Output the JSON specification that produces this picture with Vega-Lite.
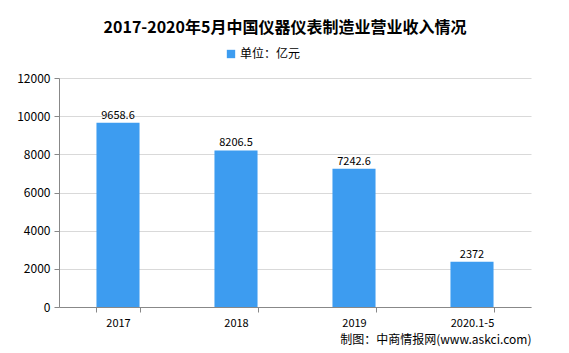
{
  "$schema": "https://vega.github.io/schema/vega-lite/v6.json",
  "width": 472,
  "height": 229,
  "autosize": {"type": "none"},
  "padding": {"left": 59, "top": 78, "right": 38, "bottom": 46},
  "background": "white",
  "config": {
    "font": "Noto Sans CJK SC",
    "view": {"stroke": null}
  },
  "title": {
    "text": "2017-2020年5月中国仪器仪表制造业营业收入情况",
    "fontSize": 16,
    "fontWeight": "bold",
    "color": "#000000",
    "anchor": "middle",
    "dx": -10,
    "offset": 12,
    "font": "Noto Sans CJK SC"
  },
  "data": {
    "values": [
      {"year": "2017", "value": 9658.6, "label": "9658.6", "series": "单位：亿元"},
      {"year": "2018", "value": 8206.5, "label": "8206.5", "series": "单位：亿元"},
      {"year": "2019", "value": 7242.6, "label": "7242.6", "series": "单位：亿元"},
      {"year": "2020.1-5", "value": 2372, "label": "2372", "series": "单位：亿元"}
    ]
  },
  "encoding": {
    "x": {
      "field": "year",
      "type": "nominal",
      "sort": null,
      "scale": {"paddingInner": 0.635, "paddingOuter": 0.3175},
      "axis": {
        "title": "制图：中商情报网(www.askci.com)",
        "titleAnchor": "end",
        "titleAlign": "right",
        "titleFontSize": 12,
        "titleFontWeight": "normal",
        "titleColor": "#000000",
        "titlePadding": 6,
        "labelAngle": 0,
        "labelFontSize": 11,
        "labelColor": "#000000",
        "labelPadding": 5,
        "tickBand": "extent",
        "tickSize": 5,
        "tickColor": "#888888",
        "domainColor": "#888888",
        "grid": false
      }
    },
    "y": {
      "field": "value",
      "type": "quantitative",
      "scale": {"domain": [0, 12000]},
      "axis": {
        "title": null,
        "values": [0, 2000, 4000, 6000, 8000, 10000, 12000],
        "format": "d",
        "labelFontSize": 12,
        "labelColor": "#000000",
        "labelPadding": 4,
        "tickSize": 5,
        "tickColor": "#888888",
        "domainColor": "#888888",
        "gridColor": "#d9d9d9"
      }
    }
  },
  "layer": [
    {
      "mark": {"type": "bar", "color": "#3d9cf0"},
      "encoding": {
        "color": {
          "field": "series",
          "type": "nominal",
          "scale": {"range": ["#3d9cf0"]},
          "legend": {
            "title": null,
            "orient": "none",
            "legendX": 166,
            "legendY": -30,
            "symbolType": "square",
            "symbolSize": 70,
            "symbolStrokeWidth": 0,
            "labelFontSize": 12,
            "labelColor": "#000000",
            "labelOffset": 3
          }
        }
      }
    },
    {
      "mark": {"type": "text", "baseline": "bottom", "dy": -2, "fontSize": 11, "color": "#000000"},
      "encoding": {"text": {"field": "label"}}
    }
  ]
}
